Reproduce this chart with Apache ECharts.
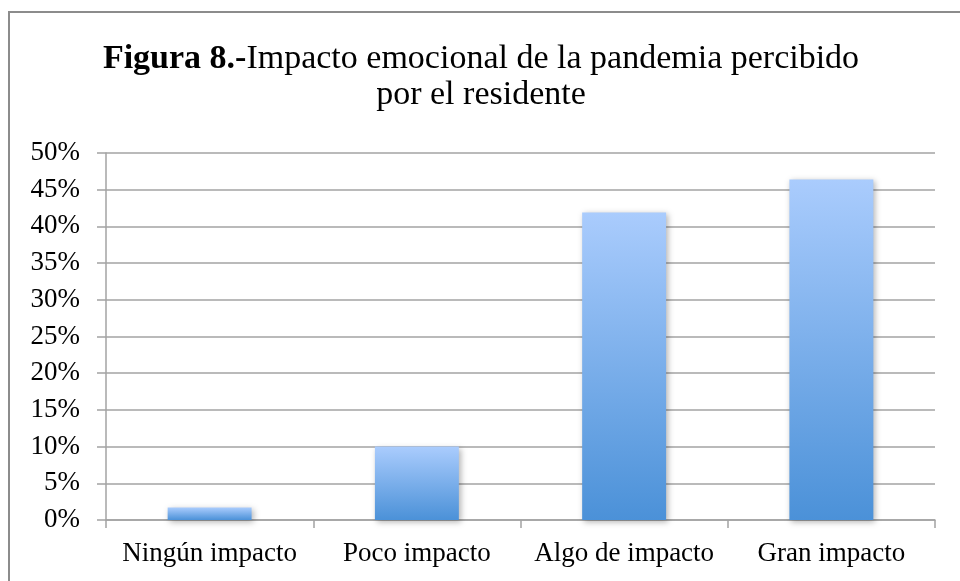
<!DOCTYPE html>
<html><head><meta charset="utf-8">
<script src="https://cdn.jsdelivr.net/npm/echarts@6/dist/echarts.min.js"></script>
<style>html,body{margin:0;padding:0;background:#fff}#c{width:960px;height:581px}</style>
</head><body><div id="c"></div>
<script>
const categories = ['Ningún impacto', 'Poco impacto', 'Algo de impacto', 'Gran impacto'];
const values = [1.7, 10.0, 41.9, 46.4];
const yTicks = [0, 5, 10, 15, 20, 25, 30, 35, 40, 45, 50];
const titleBold = 'Figura 8.-';
const titleLine1 = 'Impacto emocional de la pandemia percibido';
const titleLine2 = 'por el residente';

const chart = echarts.init(document.getElementById('c'), null, {renderer: 'canvas'});
const FONT = 'Liberation Serif';
chart.setOption({
  animation: false,
  backgroundColor: '#fff',
  graphic: [
    {
      type: 'rect', shape: {x: 9, y: 12, width: 980, height: 620},
      style: {fill: 'none', stroke: '#8c8c8c', lineWidth: 2}, z: -1
    },
    {
      type: 'text', x: 481, y: 42,
      style: {
        text: '{b|' + titleBold + '}{n|' + titleLine1 + '}',
        align: 'center', verticalAlign: 'top',
        rich: {
          b: {fontFamily: FONT, fontWeight: 'bold', fontSize: 34, fill: '#000'},
          n: {fontFamily: FONT, fontWeight: 'normal', fontSize: 34, fill: '#000'}
        }
      }
    },
    {
      type: 'text', x: 481, y: 78,
      style: {
        text: titleLine2, align: 'center', verticalAlign: 'top',
        font: 'normal 34px "' + FONT + '"', fill: '#000'
      }
    }
  ],
  grid: {left: 106, right: 25, top: 153, bottom: 61, containLabel: false},
  xAxis: {
    type: 'category', data: categories, boundaryGap: true,
    axisLine: {lineStyle: {color: '#a3a3a3', width: 1.5}},
    axisTick: {show: true, length: 8, interval: 0, lineStyle: {color: '#a3a3a3', width: 1.5}},
    axisLabel: {fontFamily: FONT, fontSize: 27, color: '#000', margin: 20, interval: 0}
  },
  yAxis: {
    type: 'value', min: 0, max: 50, interval: 5,
    axisLine: {show: true, lineStyle: {color: '#a3a3a3', width: 1.5}},
    axisTick: {show: true, length: 9, lineStyle: {color: '#a3a3a3', width: 1.5}},
    splitLine: {show: true, lineStyle: {color: '#a3a3a3', width: 1.5}},
    axisLabel: {fontFamily: FONT, fontSize: 27, color: '#000', margin: 26,
      formatter: v => yTicks.includes(v) ? v + '%' : ''}
  },
  series: [{
    type: 'bar', data: values, barWidth: '40.5%',
    itemStyle: {
      color: new echarts.graphic.LinearGradient(0, 0, 0, 1, [
        {offset: 0, color: '#aaccfd'}, {offset: 1, color: '#4b91d8'}
      ]),
      shadowBlur: 6, shadowColor: 'rgba(0,0,0,0.3)', shadowOffsetX: 2, shadowOffsetY: 2
    }
  }]
});
</script></body></html>
